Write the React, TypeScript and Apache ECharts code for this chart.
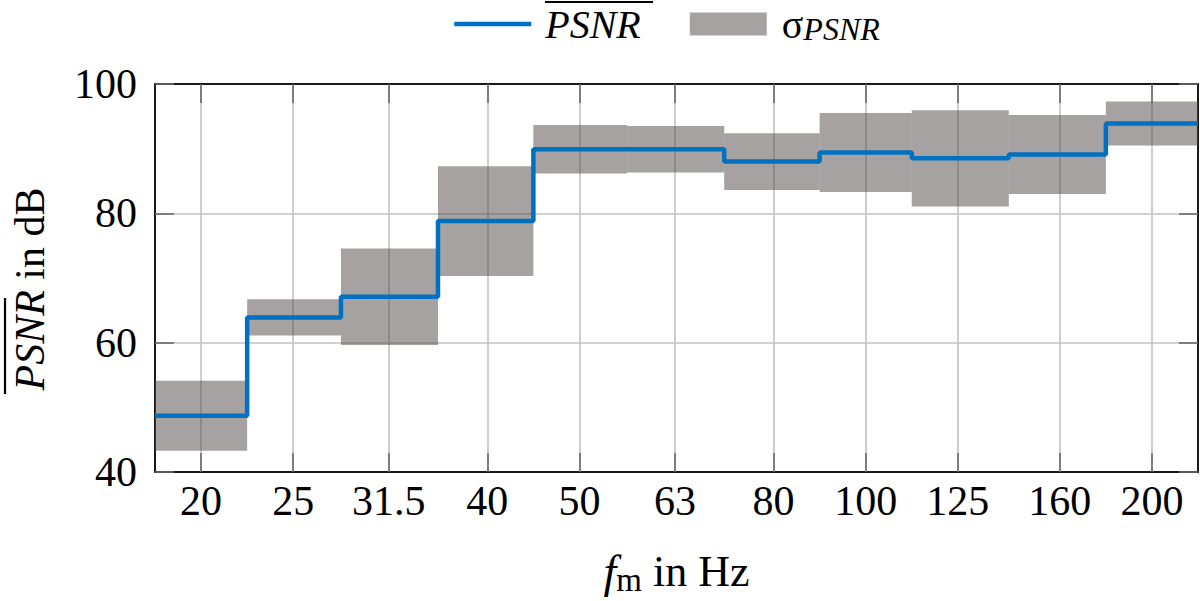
import React, { useEffect, useRef } from "react";
import * as echarts from "echarts";

const FREQS = [20, 25, 31.5, 40, 50, 63, 80, 100, 125, 160, 200];
const FREQ_LABELS = ["20", "25", "31.5", "40", "50", "63", "80", "100", "125", "160", "200"];
const PSNR_MEAN = [48.7, 63.9, 67.1, 78.8, 89.9, 89.9, 88.0, 89.4, 88.5, 89.1, 93.9];
const PSNR_STD = [5.4, 2.8, 7.45, 8.5, 3.75, 3.6, 4.4, 6.1, 7.45, 6.1, 3.4];
const Y_MIN = 40;
const Y_MAX = 100;
const Y_STEP = 20;

const FONT = "Liberation Serif";

export default function App() {
  const ref = useRef<HTMLDivElement>(null);
  useEffect(() => {
    if (!ref.current) return;
    const chart = echarts.init(ref.current, null, { renderer: "svg" });
    const logF = FREQS.map((f) => Math.log10(f));
    const n = logF.length;
    const edges: number[] = [];
    edges.push(logF[0] - (logF[1] - logF[0]) / 2);
    for (let i = 1; i < n; i++) edges.push((logF[i - 1] + logF[i]) / 2);
    edges.push(logF[n - 1] + (logF[n - 1] - logF[n - 2]) / 2);
    const xMin = edges[0];
    const xMax = edges[n];

    const lineData: number[][] = [[xMin, PSNR_MEAN[0]]];
    logF.forEach((x, i) => lineData.push([x, PSNR_MEAN[i]]));
    lineData.push([xMax, PSNR_MEAN[n - 1]]);

    const boxData = logF.map((_, i) => [edges[i], edges[i + 1], PSNR_MEAN[i], PSNR_STD[i]]);

    const fmt = (v: number) => {
      let best = 0;
      let d = Infinity;
      logF.forEach((x, i) => {
        if (Math.abs(x - v) < d) {
          d = Math.abs(x - v);
          best = i;
        }
      });
      return FREQ_LABELS[best];
    };

    const tickStyle = { color: "#6a6a6a", width: 1.6 };
    const frame = { show: true, lineStyle: { color: "#1a1a1a", width: 2 } };
    const BOX = "rgba(78,70,70,0.5)";
    const BLUE = "#0070c0";

    chart.setOption({
      animation: false,
      textStyle: { fontFamily: FONT, color: "#000" },
      grid: { left: 155, top: 84, width: 1043, height: 391, containLabel: false },
      legend: {
        left: 447,
        top: -2,
        itemWidth: 77,
        itemHeight: 23,
        itemGap: 49,
        data: [
          { name: "PSNR", itemStyle: { opacity: 0 }, lineStyle: { width: 4.5, color: BLUE } },
          { name: "σPSNR", icon: "rect" },
        ],
        formatter: (name: string) => (name === "PSNR" ? "{it|PSNR}" : "{sg|σ}{sub|PSNR}"),
        textStyle: {
          fontFamily: FONT,
          fontSize: 40,
          color: "#000",
          lineHeight: 30,
          rich: {
            it: {
              fontFamily: FONT,
              fontStyle: "italic",
              fontSize: 40,
              lineHeight: 30,
              color: "#000",
              padding: [0, 0, 0, 9],
            },
            sg: { fontFamily: FONT, fontSize: 40, lineHeight: 30, color: "#000", padding: [0, 0, 0, 10] },
            sub: {
              fontFamily: FONT,
              fontStyle: "italic",
              fontSize: 32,
              lineHeight: 12,
              padding: [10, 0, 0, 0],
              color: "#000",
            },
          },
        },
      },
      xAxis: [
        {
          type: "value",
          min: xMin,
          max: xMax,
          position: "bottom",
          axisLine: frame,
          axisTick: { show: true, inside: true, length: 19, lineStyle: tickStyle, customValues: logF },
          axisLabel: {
            show: true,
            customValues: logF,
            formatter: fmt,
            fontFamily: FONT,
            fontSize: 42,
            color: "#000",
            margin: 8,
          },
          splitLine: { show: true, lineStyle: { color: "#c2c2c2", width: 1.6 } },
          name: "{i|f}{s|m} in Hz",
          nameLocation: "middle",
          nameGap: 75,
          nameTextStyle: {
            fontFamily: FONT,
            fontSize: 44,
            color: "#000",
            rich: {
              i: { fontFamily: FONT, fontStyle: "italic", fontSize: 46, color: "#000" },
              s: { fontFamily: FONT, fontSize: 33, color: "#000", padding: [16, 0, 0, 0] },
            },
          },
        },
        {
          type: "value",
          min: xMin,
          max: xMax,
          position: "top",
          axisLine: frame,
          axisTick: { show: true, inside: true, length: 19, lineStyle: tickStyle, customValues: logF },
          axisLabel: { show: false },
          splitLine: { show: false },
        },
      ],
      yAxis: [
        {
          type: "value",
          min: Y_MIN,
          max: Y_MAX,
          interval: Y_STEP,
          position: "left",
          axisLine: frame,
          axisTick: { show: true, inside: true, length: 19, lineStyle: tickStyle },
          axisLabel: { fontFamily: FONT, fontSize: 42, color: "#000", margin: 18 },
          splitLine: { show: true, lineStyle: { color: "#c2c2c2", width: 1.6 } },
          name: "{i|PSNR} in dB",
          nameLocation: "middle",
          nameGap: 104,
          nameTextStyle: {
            fontFamily: FONT,
            fontSize: 42,
            color: "#000",
            padding: [0, 22, 0, 0],
            rich: {
              i: { fontFamily: FONT, fontStyle: "italic", fontSize: 42, color: "#000" },
            },
          },
        },
        {
          type: "value",
          min: Y_MIN,
          max: Y_MAX,
          interval: Y_STEP,
          position: "right",
          axisLine: frame,
          axisTick: { show: true, inside: true, length: 19, lineStyle: tickStyle },
          axisLabel: { show: false },
          splitLine: { show: false },
        },
      ],
      series: [
        {
          name: "σPSNR",
          type: "custom",
          xAxisIndex: 0,
          yAxisIndex: 0,
          itemStyle: { color: BOX },
          encode: { x: [0, 1], y: 2 },
          data: boxData,
          renderItem: (params: any, api: any) => {
            const lo = api.value(0);
            const hi = api.value(1);
            const m = api.value(2);
            const s = api.value(3);
            const p1 = api.coord([lo, m + s]);
            const p2 = api.coord([hi, m - s]);
            return {
              type: "rect",
              shape: { x: p1[0], y: p1[1], width: p2[0] - p1[0], height: p2[1] - p1[1] },
              style: { fill: BOX },
            };
          },
          z: 2,
        },
        {
          name: "PSNR",
          type: "line",
          xAxisIndex: 0,
          yAxisIndex: 0,
          step: "middle",
          symbol: "none",
          showSymbol: false,
          data: lineData,
          lineStyle: { color: BLUE, width: 4.5 },
          itemStyle: { color: BLUE },
          z: 3,
        },
      ],
      graphic: [
        {
          type: "line",
          shape: { x1: 545, y1: 2, x2: 653, y2: 2 },
          style: { stroke: "#000", lineWidth: 2.2 },
        },
        {
          type: "line",
          shape: { x1: 5, y1: 298, x2: 5, y2: 394 },
          style: { stroke: "#000", lineWidth: 2.2 },
        },
      ],
    });
    return () => chart.dispose();
  }, []);
  return (
    <div
      ref={ref}
      style={{ position: "fixed", left: 0, top: 0, width: 1200, height: 601, background: "#fff" }}
    />
  );
}
